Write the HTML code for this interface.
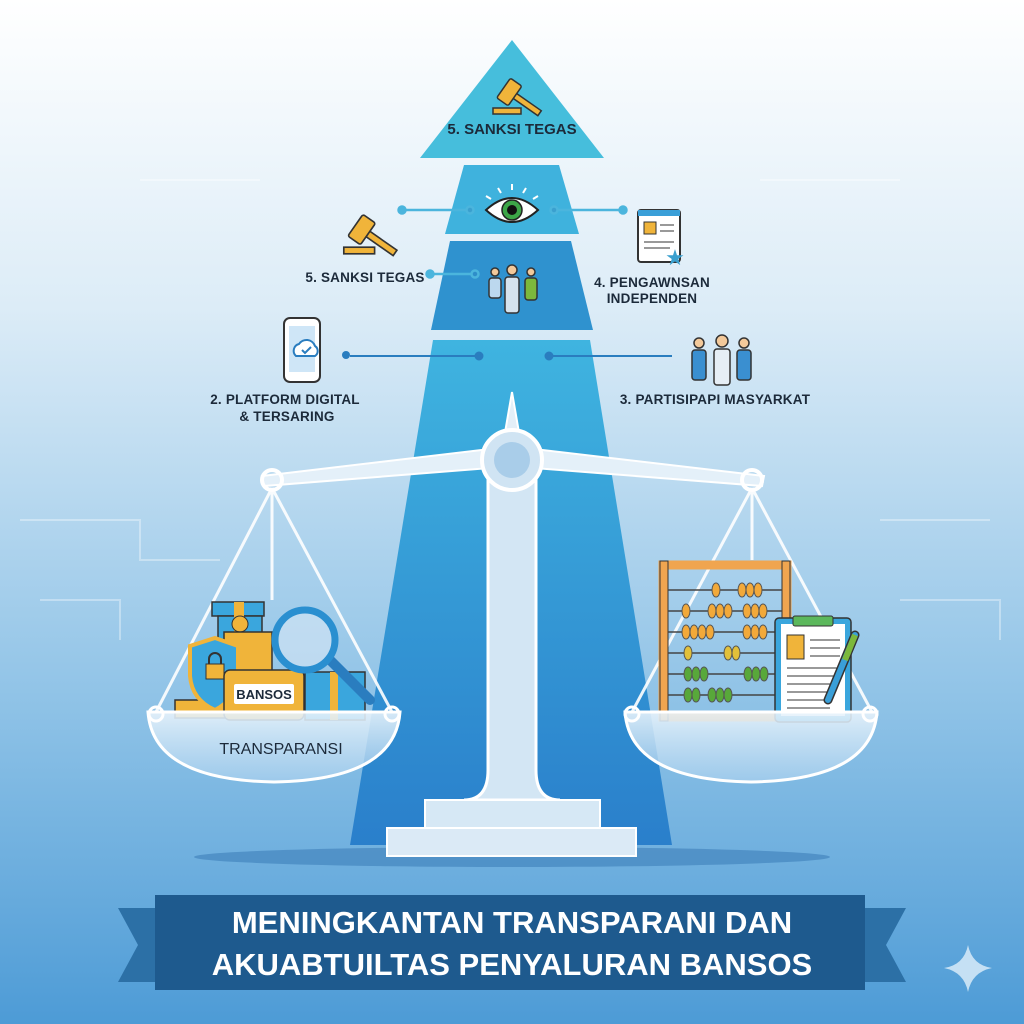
<!DOCTYPE html>
<html><head><meta charset="utf-8"><style>
html,body{margin:0;padding:0;width:1024px;height:1024px;overflow:hidden}
svg{display:block}
text{font-family:"Liberation Sans",sans-serif}
</style></head><body>
<svg width="1024" height="1024" viewBox="0 0 1024 1024" xmlns="http://www.w3.org/2000/svg">
<defs>
<linearGradient id="bg" x1="0" y1="0" x2="0" y2="1">
<stop offset="0" stop-color="#ffffff"/><stop offset="0.3" stop-color="#dcecf7"/><stop offset="0.7" stop-color="#8cc1e6"/><stop offset="1" stop-color="#4d9bd6"/></linearGradient>
<linearGradient id="t4" x1="0" y1="0" x2="0" y2="1">
<stop offset="0" stop-color="#3fb4e0"/><stop offset="1" stop-color="#2a7fcb"/></linearGradient>
<linearGradient id="pan" x1="0" y1="0" x2="0" y2="1">
<stop offset="0" stop-color="#e8f3fb" stop-opacity="0.9"/><stop offset="1" stop-color="#a9d0ee" stop-opacity="0.7"/></linearGradient>
<g id="gavel">
<rect x="-22" y="12" width="28" height="6" fill="#f0b43a" stroke="#333" stroke-width="1.5"/>
<g transform="rotate(35)"><rect x="-2" y="-3" width="32" height="6" fill="#f0b43a" stroke="#333" stroke-width="1.5"/><rect x="-14" y="-12" width="14" height="24" rx="2" fill="#f0b43a" stroke="#333" stroke-width="1.5"/></g>
</g>
</defs>
<rect width="1024" height="1024" fill="url(#bg)"/>
<g stroke="#ffffff" stroke-opacity="0.35" fill="none" stroke-width="2">
<path d="M20 520 H140 V560 H220"/><path d="M40 600 H120 V640"/><path d="M880 520 H990"/><path d="M900 600 H1000 V640"/><path d="M140 180 H260"/><path d="M760 180 H900"/>
</g>
<polygon points="512,40 604,158 420,158" fill="#46bedc"/>
<polygon points="464,165 559,165 579,234 445,234" fill="#3fb2dd"/>
<polygon points="450,241 571,241 593,330 431,330" fill="#2f92cf"/>
<polygon points="433,340 590,340 672,845 350,845" fill="url(#t4)"/>
<text x="512" y="134" text-anchor="middle" font-size="15" font-weight="bold" fill="#1c2a3a">5. SANKSI TEGAS</text>
<use href="#gavel" transform="translate(515,96)"/>
<path d="M486 210 Q512 186 538 210 Q512 234 486 210Z" fill="#fff" stroke="#222" stroke-width="2"/>
<circle cx="512" cy="210" r="10" fill="#3da648" stroke="#222" stroke-width="1.5"/><circle cx="512" cy="210" r="5" fill="#111"/>
<g stroke="#fff" stroke-width="2"><line x1="512" y1="184" x2="512" y2="190"/><line x1="498" y1="188" x2="501" y2="193"/><line x1="526" y1="188" x2="523" y2="193"/><line x1="486" y1="196" x2="491" y2="199"/><line x1="538" y1="196" x2="533" y2="199"/></g>
<g stroke="#333" stroke-width="1.5"><circle cx="495" cy="272" r="4" fill="#f3c99a"/><rect x="489" y="278" width="12" height="20" rx="3" fill="#bcd8ee"/><circle cx="512" cy="270" r="5" fill="#f3c99a"/><rect x="505" y="277" width="14" height="36" rx="3" fill="#d6e3ee"/><circle cx="531" cy="272" r="4" fill="#f3c99a"/><rect x="525" y="278" width="12" height="22" rx="3" fill="#7cb83c"/></g>
<g stroke="#4bb5dd" stroke-width="2.5" fill="#4bb5dd"><line x1="402" y1="210" x2="470" y2="210"/><circle cx="402" cy="210" r="3.5"/><circle cx="470" cy="210" r="3.5" fill="#3aa0cf"/><line x1="554" y1="210" x2="623" y2="210"/><circle cx="554" cy="210" r="3.5" fill="#3aa0cf"/><circle cx="623" cy="210" r="3.5"/><line x1="430" y1="274" x2="475" y2="274"/><circle cx="430" cy="274" r="3.5"/><circle cx="475" cy="274" r="3.5" fill="#2e8ec9"/></g>
<g stroke="#2a7dbf" stroke-width="2" fill="#2a7dbf"><line x1="350" y1="356" x2="479" y2="356"/><circle cx="479" cy="356" r="3.5"/><line x1="549" y1="356" x2="672" y2="356"/><circle cx="549" cy="356" r="3.5"/></g>
<g font-size="13.5" fill="#1c2a3a" font-weight="bold" letter-spacing="0.2">
<text x="365" y="282" text-anchor="middle">5. SANKSI TEGAS</text>
<text x="652" y="287" text-anchor="middle">4. PENGAWNSAN</text>
<text x="652" y="303" text-anchor="middle">INDEPENDEN</text>
<text x="285" y="404" text-anchor="middle">2. PLATFORM DIGITAL</text>
<text x="287" y="421" text-anchor="middle">&amp; TERSARING</text>
<text x="715" y="404" text-anchor="middle">3. PARTISIPAPI MASYARKAT</text>
</g>
<use href="#gavel" transform="translate(368,234) scale(1.1)"/>
<rect x="638" y="210" width="42" height="52" rx="3" fill="#fff" stroke="#333" stroke-width="2"/><rect x="644" y="222" width="12" height="12" fill="#f0b43a" stroke="#333"/><g stroke="#333"><line x1="660" y1="225" x2="674" y2="225"/><line x1="660" y1="231" x2="674" y2="231"/><line x1="644" y1="242" x2="674" y2="242"/><line x1="644" y1="248" x2="670" y2="248"/></g><rect x="638" y="210" width="42" height="6" fill="#3a9fd8"/>
<text x="675" y="265" font-size="22" fill="#3aa0cf" text-anchor="middle">★</text>
<rect x="284" y="318" width="36" height="64" rx="6" fill="#fff" stroke="#333" stroke-width="2"/><rect x="289" y="326" width="26" height="46" fill="#cfe6f7"/><path d="M296 356 a7 7 0 0 1 3-12 a9 9 0 0 1 16 2 a6 6 0 0 1 0 10Z" fill="#fff" stroke="#2a7dbf" stroke-width="2"/><path d="M302 350 l3 3 6-6" stroke="#2a7dbf" stroke-width="2" fill="none"/>
<circle cx="346" cy="355" r="4" fill="#2a7dbf"/>
<g stroke="#333" stroke-width="1.5"><circle cx="699" cy="343" r="5" fill="#f3c99a"/><rect x="692" y="350" width="14" height="30" rx="3" fill="#3a8fd0"/><circle cx="722" cy="341" r="6" fill="#f3c99a"/><rect x="714" y="349" width="16" height="36" rx="3" fill="#e6eef5"/><circle cx="744" cy="343" r="5" fill="#f3c99a"/><rect x="737" y="350" width="14" height="30" rx="3" fill="#3a8fd0"/></g>
<ellipse cx="512" cy="857" rx="318" ry="10" fill="#2d6fae" opacity="0.45"/>
<polygon points="512,392 502,450 522,450" fill="#e3eff8" stroke="#fff" stroke-width="2"/>
<path d="M488 470 H536 L536 770 Q536 800 560 800 H464 Q488 800 488 770Z" fill="#d3e6f4" stroke="#fff" stroke-width="3"/>
<rect x="425" y="800" width="175" height="28" fill="#d6e8f5" stroke="#fff" stroke-width="2"/>
<rect x="387" y="828" width="249" height="28" fill="#dbeaf6" stroke="#fff" stroke-width="2"/>
<path d="M262 476 L490 449 L534 449 L764 476 L762 486 L534 468 L490 468 L264 486Z" fill="#e4f0f9" stroke="#fff" stroke-width="2"/>
<circle cx="272" cy="480" r="10" fill="none" stroke="#fff" stroke-width="4"/>
<circle cx="752" cy="480" r="10" fill="none" stroke="#fff" stroke-width="4"/>
<circle cx="512" cy="460" r="30" fill="#d0e4f3" stroke="#fff" stroke-width="4"/><circle cx="512" cy="460" r="18" fill="#a9cde9"/>
<g stroke="#fff" stroke-width="3" opacity="0.9"><line x1="272" y1="488" x2="156" y2="712"/><line x1="272" y1="488" x2="272" y2="600"/><line x1="272" y1="488" x2="392" y2="712"/><line x1="752" y1="488" x2="632" y2="712"/><line x1="752" y1="488" x2="752" y2="560"/><line x1="752" y1="488" x2="872" y2="712"/></g>
<rect x="212" y="602" width="52" height="14" fill="#3aa6dd" stroke="#333" stroke-width="1.5"/><rect x="218" y="616" width="44" height="32" fill="#3aa6dd" stroke="#333" stroke-width="1.5"/><rect x="234" y="602" width="10" height="46" fill="#f0b43a"/>
<circle cx="240" cy="624" r="8" fill="#f0b43a" stroke="#333"/>
<rect x="224" y="632" width="48" height="80" fill="#f0b43a" stroke="#333" stroke-width="1.5"/>
<rect x="175" y="700" width="50" height="18" fill="#f0b43a" stroke="#333" stroke-width="1.5"/>
<path d="M215 638 L238 646 V676 Q235 700 215 710 Q192 700 190 676 V646Z" fill="#3aa6dd" stroke="#f0b43a" stroke-width="4"/>
<rect x="206" y="664" width="18" height="15" fill="#f0b43a" stroke="#333"/><path d="M209 664 v-5 a6 6 0 0 1 12 0 v5" fill="none" stroke="#333" stroke-width="2"/>
<rect x="224" y="670" width="80" height="50" rx="6" fill="#f0b43a" stroke="#333" stroke-width="1.5"/>
<rect x="234" y="684" width="60" height="20" rx="2" fill="#fff"/>
<text x="264" y="699" text-anchor="middle" font-size="13" font-weight="bold" fill="#1c2a3a">BANSOS</text>
<rect x="305" y="672" width="60" height="48" fill="#3aa6dd" stroke="#333" stroke-width="1.5"/><rect x="330" y="672" width="8" height="48" fill="#f0b43a"/>
<line x1="330" y1="660" x2="370" y2="700" stroke="#2a7dbf" stroke-width="10" stroke-linecap="round"/>
<circle cx="305" cy="640" r="30" fill="#cfe3f3" fill-opacity="0.7" stroke="#2a8fd0" stroke-width="7"/>
<path d="M148 712 H400 Q395 780 274 782 Q153 780 148 712Z" fill="url(#pan)" stroke="#fff" stroke-width="3"/>
<circle cx="156" cy="714" r="7" fill="none" stroke="#fff" stroke-width="3"/><circle cx="392" cy="714" r="7" fill="none" stroke="#fff" stroke-width="3"/>
<text x="281" y="754" text-anchor="middle" font-size="16" fill="#1c2a3a">TRANSPARANSI</text>
<rect x="663" y="565" width="124" height="152" fill="none" stroke="#f0a550" stroke-width="9"/>
<rect x="660" y="561" width="8" height="160" fill="#f0a550" stroke="#333"/><rect x="782" y="561" width="8" height="160" fill="#f0a550" stroke="#333"/>
<g stroke="#444" stroke-width="1.5">
<line x1="668" y1="590" x2="782" y2="590"/><line x1="668" y1="611" x2="782" y2="611"/><line x1="668" y1="632" x2="782" y2="632"/><line x1="668" y1="653" x2="782" y2="653"/><line x1="668" y1="674" x2="782" y2="674"/><line x1="668" y1="695" x2="782" y2="695"/></g>
<g fill="#f2a93a" stroke="#555"><ellipse cx="716" cy="590" rx="4" ry="7"/><ellipse cx="742" cy="590" rx="4" ry="7"/><ellipse cx="750" cy="590" rx="4" ry="7"/><ellipse cx="758" cy="590" rx="4" ry="7"/>
<ellipse cx="686" cy="611" rx="4" ry="7"/><ellipse cx="712" cy="611" rx="4" ry="7"/><ellipse cx="720" cy="611" rx="4" ry="7"/><ellipse cx="728" cy="611" rx="4" ry="7"/><ellipse cx="747" cy="611" rx="4" ry="7"/><ellipse cx="755" cy="611" rx="4" ry="7"/><ellipse cx="763" cy="611" rx="4" ry="7"/>
<ellipse cx="686" cy="632" rx="4" ry="7"/><ellipse cx="694" cy="632" rx="4" ry="7"/><ellipse cx="702" cy="632" rx="4" ry="7"/><ellipse cx="710" cy="632" rx="4" ry="7"/><ellipse cx="747" cy="632" rx="4" ry="7"/><ellipse cx="755" cy="632" rx="4" ry="7"/><ellipse cx="763" cy="632" rx="4" ry="7"/></g>
<g fill="#e2c03a" stroke="#555"><ellipse cx="688" cy="653" rx="4" ry="7"/><ellipse cx="728" cy="653" rx="4" ry="7"/><ellipse cx="736" cy="653" rx="4" ry="7"/></g>
<g fill="#58a83a" stroke="#555"><ellipse cx="688" cy="674" rx="4" ry="7"/><ellipse cx="696" cy="674" rx="4" ry="7"/><ellipse cx="704" cy="674" rx="4" ry="7"/><ellipse cx="748" cy="674" rx="4" ry="7"/><ellipse cx="756" cy="674" rx="4" ry="7"/><ellipse cx="764" cy="674" rx="4" ry="7"/>
<ellipse cx="688" cy="695" rx="4" ry="7"/><ellipse cx="696" cy="695" rx="4" ry="7"/><ellipse cx="712" cy="695" rx="4" ry="7"/><ellipse cx="720" cy="695" rx="4" ry="7"/><ellipse cx="728" cy="695" rx="4" ry="7"/></g>
<rect x="775" y="618" width="76" height="104" rx="4" fill="#3aa6dd" stroke="#333" stroke-width="1.5"/><rect x="781" y="624" width="64" height="92" fill="#fff"/><rect x="793" y="616" width="40" height="10" rx="2" fill="#5cb85c" stroke="#333"/>
<rect x="787" y="635" width="17" height="24" fill="#f0b43a" stroke="#333"/>
<g stroke="#333"><line x1="810" y1="640" x2="840" y2="640"/><line x1="810" y1="648" x2="840" y2="648"/><line x1="810" y1="656" x2="840" y2="656"/><line x1="787" y1="668" x2="840" y2="668"/><line x1="787" y1="676" x2="840" y2="676"/><line x1="787" y1="684" x2="830" y2="684"/><line x1="787" y1="692" x2="830" y2="692"/><line x1="787" y1="700" x2="830" y2="700"/><line x1="787" y1="708" x2="830" y2="708"/></g>
<line x1="855" y1="635" x2="828" y2="700" stroke="#333" stroke-width="9" stroke-linecap="round"/><line x1="855" y1="635" x2="828" y2="700" stroke="#3a9fd8" stroke-width="6" stroke-linecap="round"/><line x1="855" y1="635" x2="845" y2="660" stroke="#7cb83c" stroke-width="6"/>
<path d="M625 712 H877 Q872 780 751 782 Q630 780 625 712Z" fill="url(#pan)" stroke="#fff" stroke-width="3"/>
<circle cx="632" cy="714" r="7" fill="none" stroke="#fff" stroke-width="3"/><circle cx="870" cy="714" r="7" fill="none" stroke="#fff" stroke-width="3"/>
<polygon points="118,908 170,908 170,982 118,982 138,945" fill="#2c70a6"/>
<polygon points="906,908 854,908 854,982 906,982 886,945" fill="#2c70a6"/>
<rect x="155" y="895" width="710" height="95" fill="#1e5a8e"/>
<text x="512" y="933" text-anchor="middle" font-size="31" font-weight="bold" fill="#fff">MENINGKANTAN TRANSPARANI DAN</text>
<text x="512" y="975" text-anchor="middle" font-size="31" font-weight="bold" fill="#fff">AKUABTUILTAS PENYALURAN BANSOS</text>
<path d="M968 945 Q972 965 992 968 Q972 972 968 992 Q964 972 944 968 Q964 965 968 945Z" fill="#d8ebf8" opacity="0.85"/>
</svg>
</body></html>
